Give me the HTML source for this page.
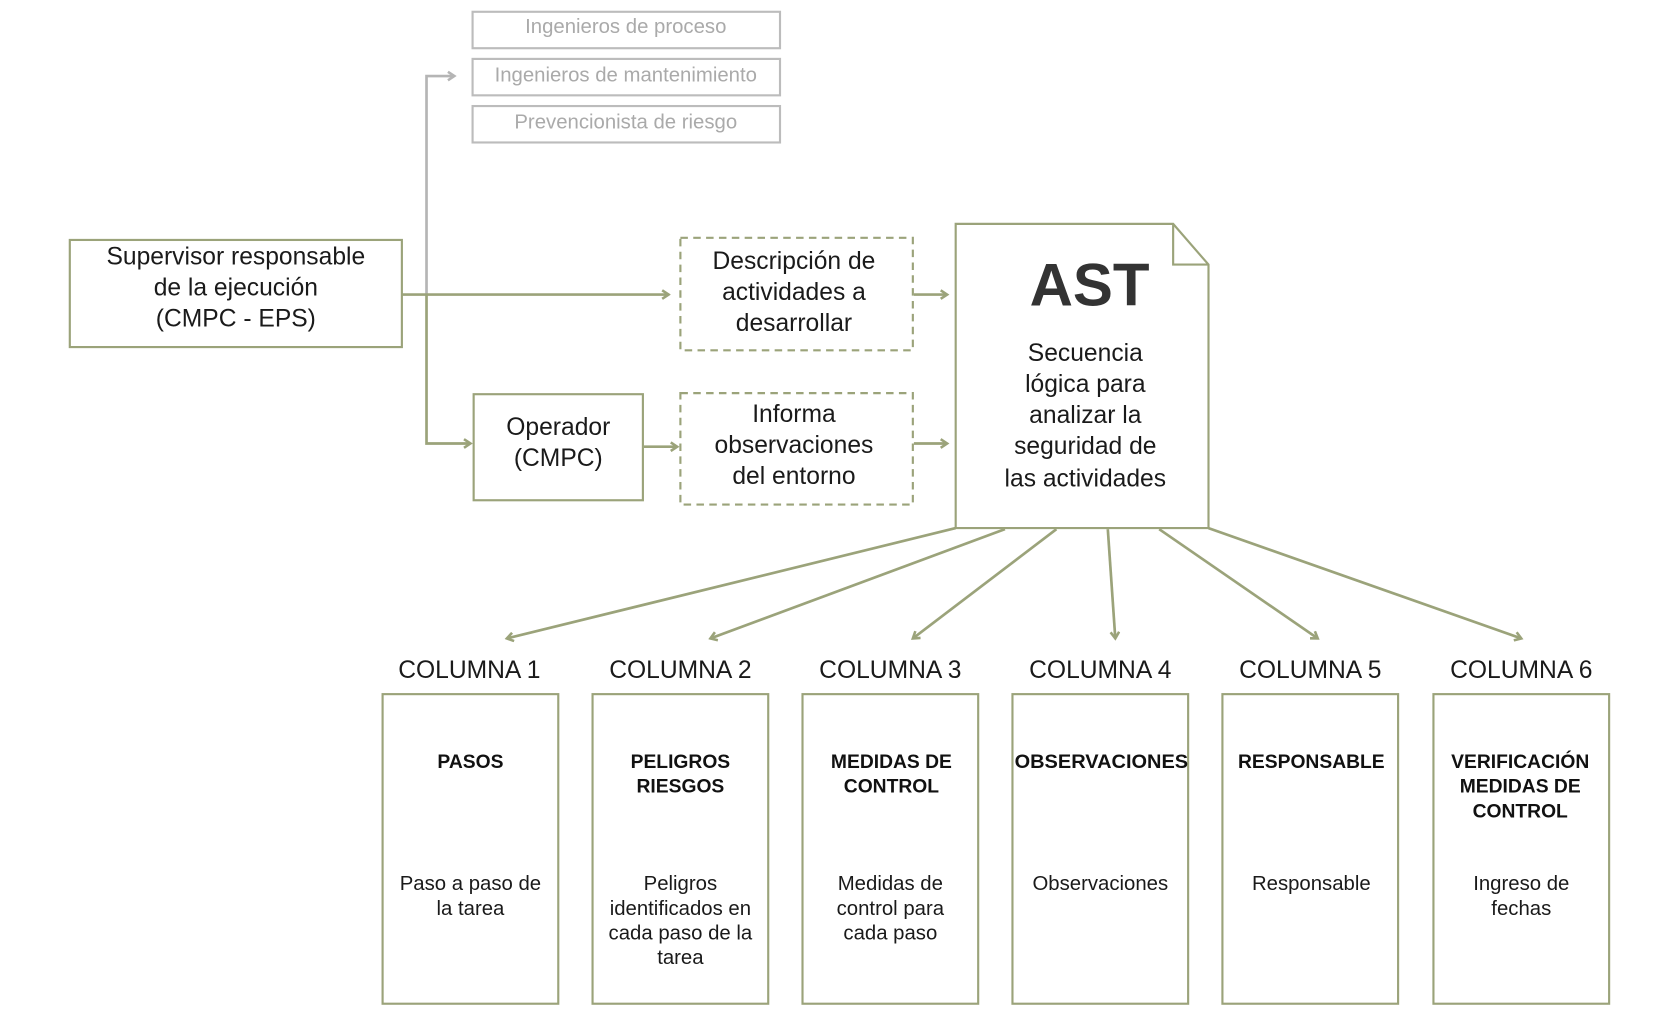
<!DOCTYPE html>
<html><head><meta charset="utf-8"><style>
html,body{margin:0;padding:0;background:#fff;}
svg{display:block;}
text{font-family:"Liberation Sans","DejaVu Sans",sans-serif;}
</style></head><body>
<svg width="1680" height="1023" viewBox="0 0 1568 955" xmlns="http://www.w3.org/2000/svg">
<defs>
<marker id="ag" markerWidth="10" markerHeight="10" refX="8" refY="5" orient="auto" markerUnits="userSpaceOnUse"><polyline points="2,1 8,5 2,9" fill="none" stroke="#9ba37a" stroke-width="2.4"/></marker>
<marker id="ar" markerWidth="10" markerHeight="10" refX="8" refY="5" orient="auto" markerUnits="userSpaceOnUse"><polyline points="2,1 8,5 2,9" fill="none" stroke="#b5b5b5" stroke-width="2.4"/></marker>
</defs>
<g fill="#fff" stroke="#bcbcbc" stroke-width="2">
<rect x="441" y="11" width="287" height="34"/><rect x="441" y="55" width="287" height="34"/><rect x="441" y="99" width="287" height="34"/>
</g>
<g fill="#aaa" font-size="19" text-anchor="middle">
<text x="584" y="31">Ingenieros de proceso</text><text x="584" y="76">Ingenieros de mantenimiento</text><text x="584" y="120">Prevencionista de riesgo</text>
</g>
<polyline points="398,275 398,71 424,71" fill="none" stroke="#b5b5b5" stroke-width="2.5" marker-end="url(#ar)"/>
<g fill="none" stroke="#9ba37a" stroke-width="2.5">
<line x1="375" y1="275" x2="624" y2="275" marker-end="url(#ag)"/>
<polyline points="398,275 398,414 439,414" marker-end="url(#ag)"/>
<line x1="853" y1="275" x2="884" y2="275" marker-end="url(#ag)"/>
<line x1="601" y1="417" x2="632" y2="417" marker-end="url(#ag)"/>
<line x1="853" y1="414" x2="884" y2="414" marker-end="url(#ag)"/>
<line x1="892" y1="493" x2="473" y2="596" marker-end="url(#ag)"/>
<line x1="938" y1="494" x2="663" y2="596" marker-end="url(#ag)"/>
<line x1="986" y1="494" x2="852" y2="596" marker-end="url(#ag)"/>
<line x1="1034" y1="494" x2="1041" y2="596" marker-end="url(#ag)"/>
<line x1="1082" y1="494" x2="1230" y2="596" marker-end="url(#ag)"/>
<line x1="1128" y1="493" x2="1420" y2="596" marker-end="url(#ag)"/>
</g>
<g fill="#fff" stroke="#9ba37a" stroke-width="2">
<rect x="65" y="224" width="310" height="100"/>
<rect x="442" y="368" width="158" height="99"/>
<rect x="635" y="222" width="217" height="105" stroke-dasharray="7,5"/>
<rect x="635" y="367" width="217" height="104" stroke-dasharray="7,5"/>
<path d="M892,209 L1095,209 L1128,247 L1128,493 L892,493 Z"/>
<polyline points="1095,209 1095,247 1128,247" fill="none"/>
<rect x="357" y="648" width="164" height="289"/><rect x="553" y="648" width="164" height="289"/><rect x="749" y="648" width="164" height="289"/>
<rect x="945" y="648" width="164" height="289"/><rect x="1141" y="648" width="164" height="289"/><rect x="1338" y="648" width="164" height="289"/>
</g>
<g fill="#1a1a1a" font-size="23" text-anchor="middle">
<text x="220" y="247">Supervisor responsable</text><text x="220" y="276">de la ejecución</text><text x="220" y="305">(CMPC - EPS)</text>
<text x="521" y="406">Operador</text><text x="521" y="435">(CMPC)</text>
<text x="741" y="251">Descripción de</text><text x="741" y="280">actividades a</text><text x="741" y="309">desarrollar</text>
<text x="741" y="394">Informa</text><text x="741" y="423">observaciones</text><text x="741" y="452">del entorno</text>
<text x="1013" y="337">Secuencia</text><text x="1013" y="366">lógica para</text><text x="1013" y="395">analizar la</text><text x="1013" y="424">seguridad de</text><text x="1013" y="454">las actividades</text>
<text x="438" y="633">COLUMNA 1</text><text x="635" y="633">COLUMNA 2</text><text x="831" y="633">COLUMNA 3</text>
<text x="1027" y="633">COLUMNA 4</text><text x="1223" y="633">COLUMNA 5</text><text x="1420" y="633">COLUMNA 6</text>
</g>
<text x="1017" y="285" font-size="56" font-weight="bold" text-anchor="middle" fill="#333">AST</text>
<g fill="#111" font-size="18" font-weight="bold" text-anchor="middle">
<text x="439" y="717">PASOS</text>
<text x="635" y="717">PELIGROS</text><text x="635" y="740">RIESGOS</text>
<text x="832" y="717">MEDIDAS DE</text><text x="832" y="740">CONTROL</text>
<text x="1028" y="717" textLength="162" lengthAdjust="spacingAndGlyphs">OBSERVACIONES</text>
<text x="1224" y="717">RESPONSABLE</text>
<text x="1419" y="717">VERIFICACIÓN</text><text x="1419" y="740">MEDIDAS DE</text><text x="1419" y="763">CONTROL</text>
</g>
<g fill="#1a1a1a" font-size="19" text-anchor="middle">
<text x="439" y="831">Paso a paso de</text><text x="439" y="854">la tarea</text>
<text x="635" y="831">Peligros</text><text x="635" y="854">identificados en</text><text x="635" y="877">cada paso de la</text><text x="635" y="900">tarea</text>
<text x="831" y="831">Medidas de</text><text x="831" y="854">control para</text><text x="831" y="877">cada paso</text>
<text x="1027" y="831">Observaciones</text>
<text x="1224" y="831">Responsable</text>
<text x="1420" y="831">Ingreso de</text><text x="1420" y="854">fechas</text>
</g>
</svg>
</body></html>
